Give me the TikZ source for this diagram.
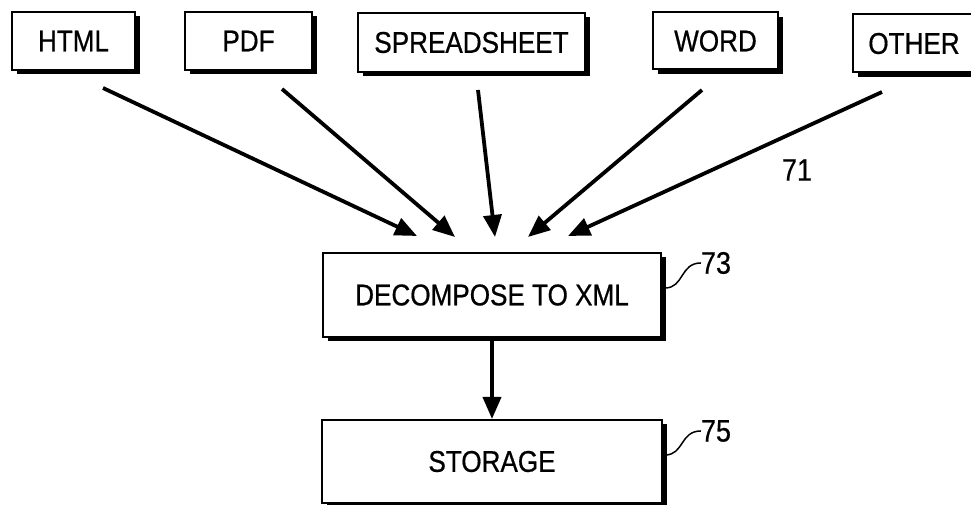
\documentclass[tikz,border=0pt]{standalone}
\usepackage{fontspec}
\setmainfont{Liberation Sans}[FakeStretch=0.87,FakeBold=0.6]
\usetikzlibrary{arrows.meta,shadows}
\begin{document}
\begin{tikzpicture}[x=1pt,y=1pt,
  box/.style={draw=black, line width=2pt, fill=white, inner sep=0pt,
    font=\fontsize{30}{32}\selectfont,
    drop shadow={shadow xshift=4.5pt, shadow yshift=-4.5pt, fill=black, opacity=1}},
  arr/.style={line width=3.8pt, -{Triangle[length=22pt,width=18pt]}},
  lead/.style={line width=1.5pt},
  lbl/.style={inner sep=0pt, font=\fontsize{31}{32}\selectfont}]
\useasboundingbox (0,0) rectangle (971,505);
% top row
\node[box, minimum width=123pt, minimum height=58pt] (html) at (73.5,464) {HTML};
\node[box, minimum width=127pt, minimum height=58pt] (pdf) at (248.5,464) {PDF};
\node[box, minimum width=227pt, minimum height=59pt] (ss) at (471.5,462.5) {SPREADSHEET};
\node[box, minimum width=125pt, minimum height=57pt] (word) at (715.5,464) {WORD};
\node[box, minimum width=122pt, minimum height=58pt] (other) at (914,461.5) {OTHER};
% middle and bottom
\node[box, minimum width=338pt, minimum height=84pt] (dec) at (492,210) {DECOMPOSE TO XML};
\node[box, minimum width=340pt, minimum height=83pt] (sto) at (492,43.5) {STORAGE};
% labels
\node[lbl] (l71) at (797,335) {71};
\node[lbl] (l73) at (716,242) {73};
\node[lbl] (l75) at (716,74) {75};
% arrow ends
\coordinate (s1) at (103,417); \coordinate (t1) at (417,269);
\coordinate (s2) at (282,416); \coordinate (t2) at (455,268);
\coordinate (s3) at (478,415); \coordinate (t3) at (495,268);
\coordinate (s4) at (702,415); \coordinate (t4) at (528,268);
\coordinate (s5) at (882,413); \coordinate (t5) at (568,269);
\draw[arr] (s1) -- (t1);
\draw[arr] (s2) -- (t2);
\draw[arr] (s3) -- (t3);
\draw[arr] (s4) -- (t4);
\draw[arr] (s5) -- (t5);
\draw[arr] (dec.south) -- (sto.north);
% lead lines
\coordinate (c73) at (665,217);
\coordinate (c75) at (665,50);
\draw[lead] (c73) .. controls (684,217) and (680,242) .. (l73.west);
\draw[lead] (c75) .. controls (684,50) and (680,74) .. (l75.west);
\end{tikzpicture}
\end{document}
